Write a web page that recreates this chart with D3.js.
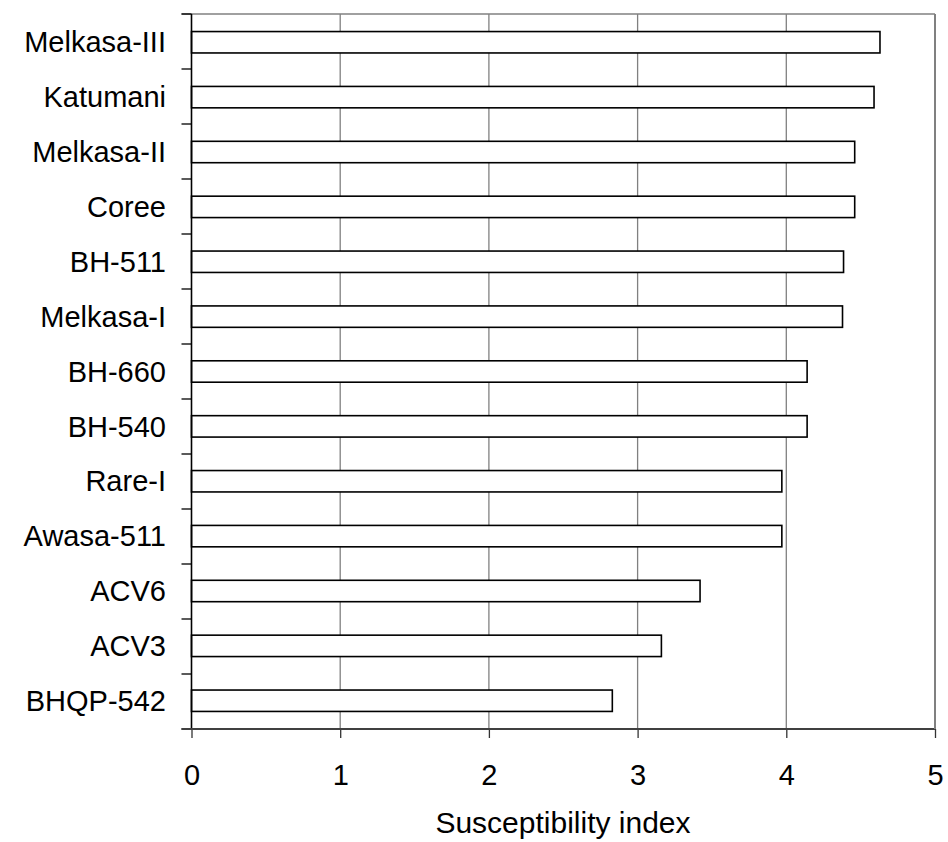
<!DOCTYPE html>
<html>
<head>
<meta charset="utf-8">
<script src="https://cdn.jsdelivr.net/npm/d3@7"></script>
<style>
  body { margin: 0; background: #fff; }
  text { font-family: "Liberation Sans", Arial, sans-serif; }
</style>
</head>
<body>
<svg id="chart" width="948" height="842"></svg>
<script>
// varieties, top to bottom
var varieties = ["Melkasa-III", "Katumani", "Melkasa-II", "Coree", "BH-511", "Melkasa-I",
                 "BH-660", "BH-540", "Rare-I", "Awasa-511", "ACV6", "ACV3", "BHQP-542"];
var susceptibility = [4.63, 4.59, 4.46, 4.46, 4.385, 4.378, 4.14, 4.14, 3.97, 3.97, 3.42, 3.16, 2.83];
var xTicks = [0, 1, 2, 3, 4, 5];
var xTitle = "Susceptibility index";

var svg = d3.select("#chart");
var plotLeft = 191.5, plotRight = 935, plotTop = 14, plotBottom = 729;

var x = d3.scaleLinear().domain([0, 5]).range([plotLeft, plotRight]);
var y = d3.scaleBand().domain(varieties).range([plotTop, plotBottom]).paddingInner(0.61).paddingOuter(0.32);

// gridlines
svg.append("g")
  .selectAll("line")
  .data(xTicks.slice(1))
  .enter().append("line")
  .attr("x1", function(d) { return x(d); })
  .attr("x2", function(d) { return x(d); })
  .attr("y1", plotTop)
  .attr("y2", plotBottom)
  .attr("stroke", "#808080")
  .attr("stroke-width", 1.3);

// top border
svg.append("line")
  .attr("x1", plotLeft - 10).attr("x2", plotRight)
  .attr("y1", plotTop).attr("y2", plotTop)
  .attr("stroke", "#808080").attr("stroke-width", 1.3);

// bars
svg.append("g")
  .selectAll("rect")
  .data(varieties)
  .enter().append("rect")
  .attr("x", x(0))
  .attr("y", function(d) { return y(d); })
  .attr("width", function(d, i) { return x(susceptibility[i]) - x(0); })
  .attr("height", y.bandwidth())
  .attr("fill", "white")
  .attr("stroke", "black")
  .attr("stroke-width", 1.6);

// y axis: ticks at band boundaries
var step = (plotBottom - plotTop) / varieties.length;
var bounds = d3.range(varieties.length + 1).map(function(i) { return plotTop + i * step; });
svg.append("g")
  .selectAll("line")
  .data(bounds)
  .enter().append("line")
  .attr("x1", plotLeft - 10).attr("x2", plotLeft)
  .attr("y1", function(d) { return d; }).attr("y2", function(d) { return d; })
  .attr("stroke", "black").attr("stroke-width", 1.3);
svg.append("line")
  .attr("x1", plotLeft).attr("x2", plotLeft)
  .attr("y1", plotTop).attr("y2", plotBottom)
  .attr("stroke", "black").attr("stroke-width", 1.6);

svg.append("g")
  .selectAll("text")
  .data(varieties)
  .enter().append("text")
  .attr("x", 166)
  .attr("y", function(d) { return y(d) + y.bandwidth() / 2; })
  .attr("dy", "0.35em")
  .attr("text-anchor", "end")
  .style("font-size", "29px")
  .text(function(d) { return d; });

// x axis
var xAxis = svg.append("g")
  .attr("transform", "translate(0," + plotBottom + ")")
  .call(d3.axisBottom(x).tickValues(xTicks).tickSize(9).tickFormat(d3.format("d")));
xAxis.select(".domain").remove();
xAxis.selectAll("line").attr("stroke", "#333").attr("stroke-width", 1.3);
xAxis.selectAll("text")
  .attr("y", 56)
  .attr("dy", null)
  .style("font-size", "29px")
  .attr("fill", "black");
svg.append("line")
  .attr("x1", plotLeft - 10).attr("x2", plotRight)
  .attr("y1", plotBottom).attr("y2", plotBottom)
  .attr("stroke", "#404040").attr("stroke-width", 2);

// right border
svg.append("line")
  .attr("x1", plotRight).attr("x2", plotRight)
  .attr("y1", plotTop).attr("y2", plotBottom)
  .attr("stroke", "#808080").attr("stroke-width", 2);

svg.append("text")
  .attr("x", 563)
  .attr("y", 833)
  .attr("text-anchor", "middle")
  .style("font-size", "30px")
  .text(xTitle);
</script>
</body>
</html>
